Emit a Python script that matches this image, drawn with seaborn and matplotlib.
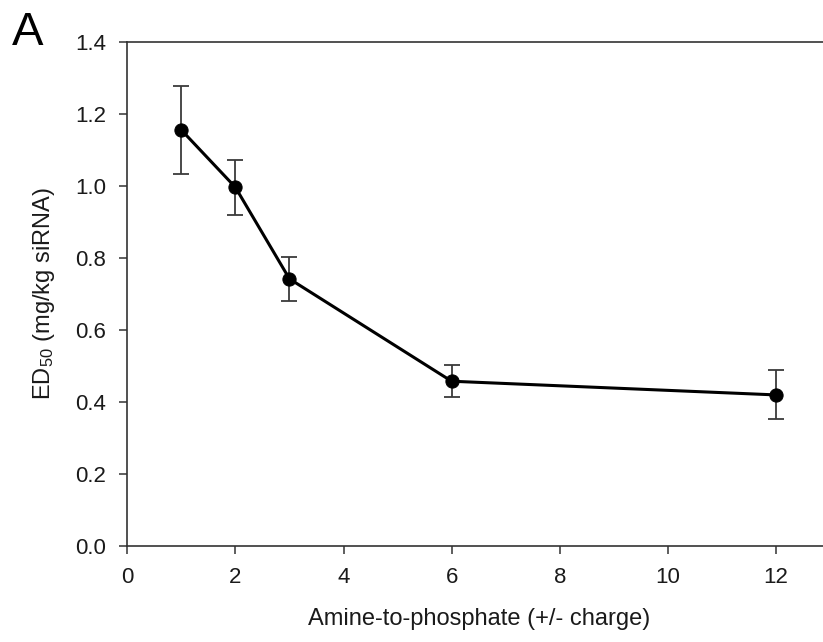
import matplotlib
matplotlib.use("Agg")
import matplotlib.pyplot as plt
import seaborn as sns
import pandas as pd

# Data
amine_to_phosphate = [1, 2, 3, 6, 12]
ed50 = [1.155, 0.996, 0.742, 0.458, 0.420]
ed50_err = [0.122, 0.077, 0.061, 0.044, 0.068]
x_ticks = [0, 2, 4, 6, 8, 10, 12]
y_ticks = [0.0, 0.2, 0.4, 0.6, 0.8, 1.0, 1.2, 1.4]

df = pd.DataFrame({"x": amine_to_phosphate, "y": ed50, "err": ed50_err})

sns.set_theme(style="ticks")
plt.rcParams["font.family"] = ["Liberation Sans", "DejaVu Sans"]
plt.rcParams["mathtext.fontset"] = "custom"
plt.rcParams["mathtext.rm"] = "Liberation Sans"
plt.rcParams["mathtext.it"] = "Liberation Sans"

fig = plt.figure(figsize=(8.23, 6.42), dpi=100)
W, H = 823, 642
left_px, right_px = 127.3, 127.3 + 13 * 54.05
top_px, bottom_px = 41.7, 546.3
ax = fig.add_axes([left_px / W, 1 - bottom_px / H,
                   (right_px - left_px) / W, (bottom_px - top_px) / H])

axis_col = "#333333"
ax.errorbar(df["x"], df["y"], yerr=df["err"], fmt="none",
            ecolor="#3a3a3a", elinewidth=1.3, capsize=6, capthick=1.3, zorder=2)
sns.lineplot(data=df, x="x", y="y", ax=ax, color="black", linewidth=2.2,
             marker="o", markersize=9.5, markeredgecolor="black",
             markerfacecolor="black", zorder=3, legend=False)

ax.set_xlim(0, 13)
ax.set_ylim(0, 1.4)
ax.set_xticks(x_ticks)
ax.set_xticklabels([str(t) for t in x_ticks])
ax.set_yticks(y_ticks)
ax.set_yticklabels([f"{t:.1f}" for t in y_ticks])

for side in ["left", "bottom", "top"]:
    ax.spines[side].set_visible(True)
    ax.spines[side].set_color(axis_col)
    ax.spines[side].set_linewidth(1.2)
ax.spines["right"].set_visible(False)

ax.tick_params(axis="both", direction="out", length=6, width=1.1,
               color=axis_col, labelsize=16, pad=9, labelcolor="#1a1a1a")
ax.tick_params(axis="x", top=False)

ax.set_xlabel("Amine-to-phosphate (+/- charge)", fontsize=17, labelpad=14,
              color="#1a1a1a")
ax.set_ylabel(r"ED$_{50}$ (mg/kg siRNA)", fontsize=17, labelpad=13,
              color="#1a1a1a")

fig.text(12 / W, 1 - 45 / H, "A", fontsize=34, ha="left", va="baseline",
         family=["Liberation Sans Narrow", "Liberation Sans", "DejaVu Sans"],
         color="black")

fig.savefig("out.png", dpi=100)
